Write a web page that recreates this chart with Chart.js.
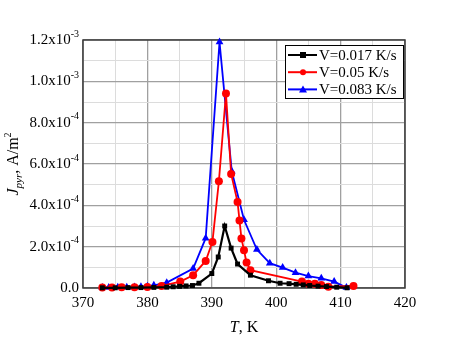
<!DOCTYPE html>
<html>
<head>
<meta charset="utf-8">
<script src="https://cdn.jsdelivr.net/npm/chart.js@4/dist/chart.umd.min.js"></script>
<style>
html,body{margin:0;padding:0;background:#fff;}
canvas{display:block;}
</style>
</head>
<body>
<canvas id="c" width="474" height="347"></canvas>
<script>
// ---- data (T in K, J in units of 1e-4 A/m^2) ----
const seriesLabels = ["V=0.017 K/s", "V=0.05 K/s", "V=0.083 K/s"];

const blackT = [373, 375, 377, 379, 381, 383, 384, 385, 386, 387, 388, 390, 391, 392, 393, 394, 396, 398.8, 400.6, 402, 403.1, 404.2, 405.2, 406.5, 407.8, 409.4, 411];
const blackJ = [0.01, 0.01, 0.02, 0.02, 0.03, 0.04, 0.06, 0.08, 0.1, 0.12, 0.23, 0.7, 1.5, 3.0, 1.93, 1.16, 0.62, 0.35, 0.23, 0.21, 0.18, 0.15, 0.12, 0.09, 0.07, 0.04, 0.01];

const redT = [373, 374.5, 376, 378, 380, 382.2, 385.1, 387.1, 389.05, 390.1, 391.1, 392.2, 393, 394, 394.3, 394.6, 395, 395.4, 396, 404, 405, 406, 407, 408.1, 412];
const redJ = [0.03, 0.03, 0.04, 0.04, 0.05, 0.1, 0.31, 0.62, 1.31, 2.23, 5.16, 9.41, 5.52, 4.16, 3.27, 2.4, 1.83, 1.23, 0.86, 0.31, 0.21, 0.21, 0.15, 0.06, 0.1];

const blueT = [373, 374, 375.4, 376.8, 378, 379, 380, 381, 383, 387.1, 389.05, 391.2, 393.1, 395, 397, 399, 401, 403, 405, 407, 409, 410.9];
const blueJ = [0.03, 0.03, 0.04, 0.04, 0.05, 0.06, 0.08, 0.13, 0.26, 0.94, 2.41, 11.9, 5.65, 3.3, 1.86, 1.2, 0.99, 0.74, 0.58, 0.47, 0.31, 0.02];

const xMin = 370, xMax = 420, xStep = 5;
const yMin = 0, yMax = 12, yStep = 1; // units of 1e-4
const unit = 1e-4;

function pts(ts, js) { return ts.map((t, i) => ({ x: t, y: js[i] * unit })); }

const SERIF = '"Liberation Serif", "Times New Roman", serif';

const framePlugin = {
  id: 'frame',
  beforeDatasetsDraw(chart) {
    const { ctx, chartArea: a } = chart;
    ctx.save();
    ctx.strokeStyle = '#3a3a3a';
    ctx.lineWidth = 1.5;
    ctx.strokeRect(a.left, a.top, a.right - a.left, a.bottom - a.top);
    ctx.restore();
  },
  afterDraw(chart) {
    const { ctx, chartArea: a } = chart;
    const ys = chart.scales.y;
    ctx.save();
    ctx.fillStyle = '#000';
    ctx.textBaseline = 'middle';
    // y tick labels with superscripts
    ys.ticks.forEach(t => {
      const n = Math.round(t.value / unit);
      if (n % 2 !== 0) return;
      const py = ys.getPixelForValue(t.value);
      const right = a.left - 4;
      ctx.font = '15px ' + SERIF;
      if (n === 0) {
        ctx.textAlign = 'right';
        ctx.fillText('0.0', right, py);
        return;
      }
      const e = n >= 10 ? -3 : -4;
      const m = n >= 10 ? n / 10 : n;
      const base = m.toFixed(1) + 'x10';
      const sup = String(e);
      ctx.font = '10px ' + SERIF;
      const sw = ctx.measureText(sup).width;
      ctx.font = '15px ' + SERIF;
      const bw = ctx.measureText(base).width;
      ctx.textAlign = 'left';
      ctx.fillText(base, right - sw - bw, py);
      ctx.font = '10px ' + SERIF;
      ctx.fillText(sup, right - sw, py - 6);
    });
    // x title
    ctx.textAlign = 'left';
    ctx.textBaseline = 'alphabetic';
    ctx.font = 'italic 16px ' + SERIF;
    const tW = ctx.measureText('T').width;
    ctx.font = '16px ' + SERIF;
    const kW = ctx.measureText(', K').width;
    const cx = (a.left + a.right) / 2;
    let x0 = cx - (tW + kW) / 2;
    const by = 332;
    ctx.font = 'italic 16px ' + SERIF;
    ctx.fillText('T', x0, by);
    ctx.font = '16px ' + SERIF;
    ctx.fillText(', K', x0 + tW, by);
    // y title rotated
    ctx.save();
    ctx.translate(13, (a.top + a.bottom) / 2);
    ctx.rotate(-Math.PI / 2);
    const parts = [
      { s: 'J', f: 'italic 16px ', dy: 0 },
      { s: 'pyr', f: 'italic 11px ', dy: 4 },
      { s: ', A/m', f: '16px ', dy: 0 },
      { s: '2', f: '10px ', dy: -7 }
    ];
    let total = 0;
    parts.forEach(p => { ctx.font = p.f + SERIF; p.w = ctx.measureText(p.s).width; total += p.w; });
    let px = -total / 2;
    parts.forEach(p => { ctx.font = p.f + SERIF; ctx.fillText(p.s, px, 5 + p.dy); px += p.w; });
    ctx.restore();
    // legend
    const lx = 285, ly = 45, lw = 118, lh = 53;
    ctx.fillStyle = '#fff';
    ctx.fillRect(lx, ly, lw, lh);
    ctx.strokeStyle = '#000';
    ctx.lineWidth = 1;
    ctx.strokeRect(lx + 0.5, ly + 0.5, lw, lh);
    chart.data.datasets.forEach((ds, i) => {
      const ry = ly + 10 + i * 17.2;
      ctx.strokeStyle = ds.borderColor;
      ctx.lineWidth = 2;
      ctx.beginPath();
      ctx.moveTo(lx + 3, ry);
      ctx.lineTo(lx + 32, ry);
      ctx.stroke();
      ctx.fillStyle = ds.borderColor;
      const mx = lx + 18;
      if (ds.pointStyle === 'rect') {
        ctx.fillRect(mx - 3, ry - 3, 6, 6);
      } else if (ds.pointStyle === 'circle') {
        ctx.beginPath(); ctx.arc(mx, ry, 3, 0, Math.PI * 2); ctx.fill();
      } else {
        ctx.beginPath(); ctx.moveTo(mx, ry - 4); ctx.lineTo(mx + 4, ry + 3); ctx.lineTo(mx - 4, ry + 3); ctx.closePath(); ctx.fill();
      }
      ctx.fillStyle = '#000';
      ctx.font = '15px ' + SERIF;
      ctx.textBaseline = 'middle';
      ctx.fillText(ds.label, lx + 34, ry + 1);
    });
    ctx.restore();
  }
};

const colors = ['#000000', '#ff0000', '#0000ff'];
const styles = ['rect', 'circle', 'triangle'];
const radii = [3.5, 4, 4.5];
const allData = [pts(blackT, blackJ), pts(redT, redJ), pts(blueT, blueJ)];

new Chart(document.getElementById('c'), {
  type: 'line',
  data: {
    datasets: allData.map((d, i) => ({
      label: seriesLabels[i],
      data: d,
      borderColor: colors[i],
      backgroundColor: colors[i],
      pointStyle: styles[i],
      pointRadius: radii[i],
      pointBorderWidth: 0,
      borderWidth: i === 0 ? 2.2 : 1.8,
      tension: 0,
      clip: false
    }))
  },
  options: {
    responsive: false,
    animation: false,
    devicePixelRatio: 1,
    layout: { padding: { left: 83, right: 69, top: 40, bottom: 29 } },
    plugins: { legend: { display: false }, tooltip: { enabled: false } },
    scales: {
      x: {
        type: 'linear',
        min: xMin, max: xMax,
        border: { display: false },
        grid: {
          drawTicks: false,
          color: c => (c.tick && Math.round(c.tick.value) % 10 === 0) ? '#a0a0a0' : '#dcdcdc',
          lineWidth: c => (c.tick && Math.round(c.tick.value) % 10 === 0) ? 1.3 : 1
        },
        ticks: {
          stepSize: xStep,
          padding: 6,
          color: '#000',
          font: { family: SERIF, size: 15 },
          maxRotation: 0,
          autoSkip: false,
          callback: v => (Math.round(v) % 10 === 0) ? String(Math.round(v)) : ''
        }
      },
      y: {
        type: 'linear',
        min: yMin * unit, max: yMax * unit,
        border: { display: false },
        grid: {
          drawTicks: false,
          color: c => (c.tick && Math.round(c.tick.value / unit) % 2 === 0) ? '#a0a0a0' : '#dcdcdc',
          lineWidth: c => (c.tick && Math.round(c.tick.value / unit) % 2 === 0) ? 1.3 : 1
        },
        ticks: { stepSize: yStep * unit, display: false }
      }
    }
  },
  plugins: [framePlugin]
});
</script>
</body>
</html>
